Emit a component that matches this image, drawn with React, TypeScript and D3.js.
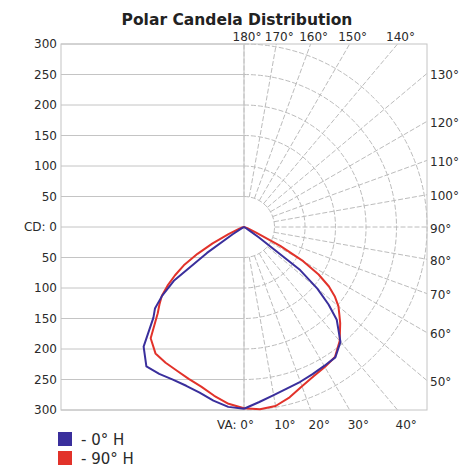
import React from "react";
import * as d3 from "d3";

// Vertical angles (degrees, 0 = straight down, 90 = horizontal)
const vaAngles = [0, 5, 10, 15, 20, 25, 30, 35, 40, 45, 47.5, 50, 52.5, 55, 57.5, 60, 62.5, 65, 70, 75, 80, 85, 90];

// Candela values – right half of the diagram
const blueRight = [298, 288, 280, 274, 270, 266, 263, 261, 246, 215, 188, 157, 116, 30, 8, 4, 2, 1, 0, 0, 0, 0, 0];
const redRight = [297, 300, 298, 289, 278, 270, 265, 260, 244, 223, 212, 202, 188, 170, 145, 112, 67, 22, 6, 2, 1, 0, 0];
// Candela values – left half of the diagram
const blueLeft = [298, 296, 289, 281, 277, 276, 278, 279, 256, 210, 198, 175, 145, 74, 22, 6, 3, 1, 0, 0, 0, 0, 0];
const redLeft = [297, 291, 281, 271, 265, 260, 257, 253, 238, 200, 188, 176, 158, 138, 117, 88, 58, 28, 8, 3, 1, 0, 0];

const cdTicks = [300, 250, 200, 150, 100, 50, 0, -50, -100, -150, -200, -250, -300];
const rings = [50, 100, 150, 200, 250, 300];
const spokes = d3.range(0, 181, 10);
const topLabels = [180, 170, 160, 150, 140];
const rightLabels = [130, 120, 110, 100, 90, 80, 70, 60, 50];
const bottomLabels = [10, 20, 30, 40];

const seriesNames = ["- 0° H", "- 90° H"];
const seriesColors = ["#3a2f9c", "#e2322a"];

const W = 472;
const H = 468;
const cx = 244;
const cy = 227;
const R = 183;
const font = "'DejaVu Sans', Verdana, sans-serif";

export default function App() {
  const r = d3.scaleLinear().domain([0, 300]).range([0, R]);
  const yCd = d3.scaleLinear().domain([-300, 300]).range([cy + R, cy - R]);
  const left = cx - R;
  const right = cx + R;
  const top = cy - R;
  const bottom = cy + R;
  const rad = (deg: number) => (deg * Math.PI) / 180;

  const pt = (deg: number, v: number, side: number): [number, number] => [
    cx + side * r(v) * Math.sin(rad(deg)),
    cy + r(v) * Math.cos(rad(deg)),
  ];

  const mk = (vals: number[], side: number) =>
    d3.line<number>()
      .x((_, i) => pt(vaAngles[i], vals[i], side)[0])
      .y((_, i) => pt(vaAngles[i], vals[i], side)[1])(vals) || "";

  // distance from center to box edge along a spoke
  const edgeDist = (deg: number) => {
    const s = Math.sin(rad(deg));
    const c = Math.cos(rad(deg));
    const tx = s > 1e-9 ? (right - cx) / s : Infinity;
    const ty = c > 1e-9 ? (bottom - cy) / c : c < -1e-9 ? (top - cy) / c : Infinity;
    return Math.min(tx, ty);
  };

  const arcPath = (rv: number) => {
    const p = d3.path();
    const rr = r(rv);
    p.moveTo(cx, cy - rr);
    p.arc(cx, cy, rr, -Math.PI / 2, Math.PI / 2);
    return p.toString();
  };

  const gridCol = "#c4c4c4";
  const dashCol = "#bcbcbc";
  const textCol = "#2a2a2a";

  return (
    <svg width={W} height={H} style={{ position: "absolute", left: 0, top: 0 }} fontFamily={font}>
      <rect x={0} y={0} width={W} height={H} fill="#fff" />
      <text x={237} y={25} textAnchor="middle" fontSize={15.5} fontWeight="bold" fill="#222">
        Polar Candela Distribution
      </text>

      {/* left horizontal grid */}
      {cdTicks.map((t, i) => (
        <line key={"h" + i} x1={left} x2={cx} y1={yCd(t)} y2={yCd(t)} stroke={gridCol} strokeWidth={1} />
      ))}

      {/* polar rings */}
      {rings.map((rv) => (
        <path key={"ring" + rv} d={arcPath(rv)} fill="none" stroke={dashCol} strokeWidth={1} strokeDasharray="5,2" />
      ))}

      {/* spokes */}
      {spokes.map((deg) => {
        const d0 = r(50);
        const d1 = edgeDist(deg);
        const s = Math.sin(rad(deg));
        const c = Math.cos(rad(deg));
        return (
          <line
            key={"sp" + deg}
            x1={cx + d0 * s}
            y1={cy + d0 * c}
            x2={cx + d1 * s}
            y2={cy + d1 * c}
            stroke={dashCol}
            strokeWidth={1}
            strokeDasharray="5,2"
          />
        );
      })}

      {/* box and center line */}
      <rect x={left} y={top} width={right - left} height={bottom - top} fill="none" stroke={gridCol} strokeWidth={1} />
      <line x1={cx} x2={cx} y1={top} y2={bottom} stroke={gridCol} strokeWidth={1} />

      {/* curves */}
      <path d={mk(redRight, 1)} fill="none" stroke={seriesColors[1]} strokeWidth={2} strokeLinejoin="round" />
      <path d={mk(redLeft, -1)} fill="none" stroke={seriesColors[1]} strokeWidth={2} strokeLinejoin="round" />
      <path d={mk(blueRight, 1)} fill="none" stroke={seriesColors[0]} strokeWidth={2} strokeLinejoin="round" />
      <path d={mk(blueLeft, -1)} fill="none" stroke={seriesColors[0]} strokeWidth={2} strokeLinejoin="round" />

      {/* left labels */}
      {cdTicks.map((t, i) => (
        <text key={"cl" + i} x={57} y={yCd(t)} dy="0.35em" textAnchor="end" fontSize={12} fill={textCol}>
          {t === 0 ? "CD: 0" : String(Math.abs(t))}
        </text>
      ))}

      {/* top labels */}
      {topLabels.map((deg) => {
        const d1 = edgeDist(deg);
        return (
          <text key={"tl" + deg} x={cx + d1 * Math.sin(rad(deg)) + 3} y={41} textAnchor="middle" fontSize={12} fill={textCol}>
            {deg}°
          </text>
        );
      })}

      {/* right labels */}
      {rightLabels.map((deg) => {
        const d1 = edgeDist(deg);
        return (
          <text key={"rl" + deg} x={right + 3} y={cy + d1 * Math.cos(rad(deg)) + 1.5} dy="0.35em" fontSize={12} fill={textCol}>
            {deg}°
          </text>
        );
      })}

      {/* bottom labels */}
      <text x={cx + 10} y={429} textAnchor="end" fontSize={12} fill={textCol}>
        VA: 0°
      </text>
      {bottomLabels.map((deg) => {
        const d1 = edgeDist(deg);
        return (
          <text key={"bl" + deg} x={cx + d1 * Math.sin(rad(deg)) - 2} y={429} fontSize={12} fill={textCol}>
            {deg}°
          </text>
        );
      })}

      {/* legend */}
      {seriesNames.map((name, i) => (
        <g key={"lg" + i}>
          <rect x={58} y={432 + i * 19} width={14} height={14} fill={seriesColors[i]} />
          <text x={81} y={445 + i * 19} fontSize={15} fill={textCol}>
            {name}
          </text>
        </g>
      ))}
    </svg>
  );
}
